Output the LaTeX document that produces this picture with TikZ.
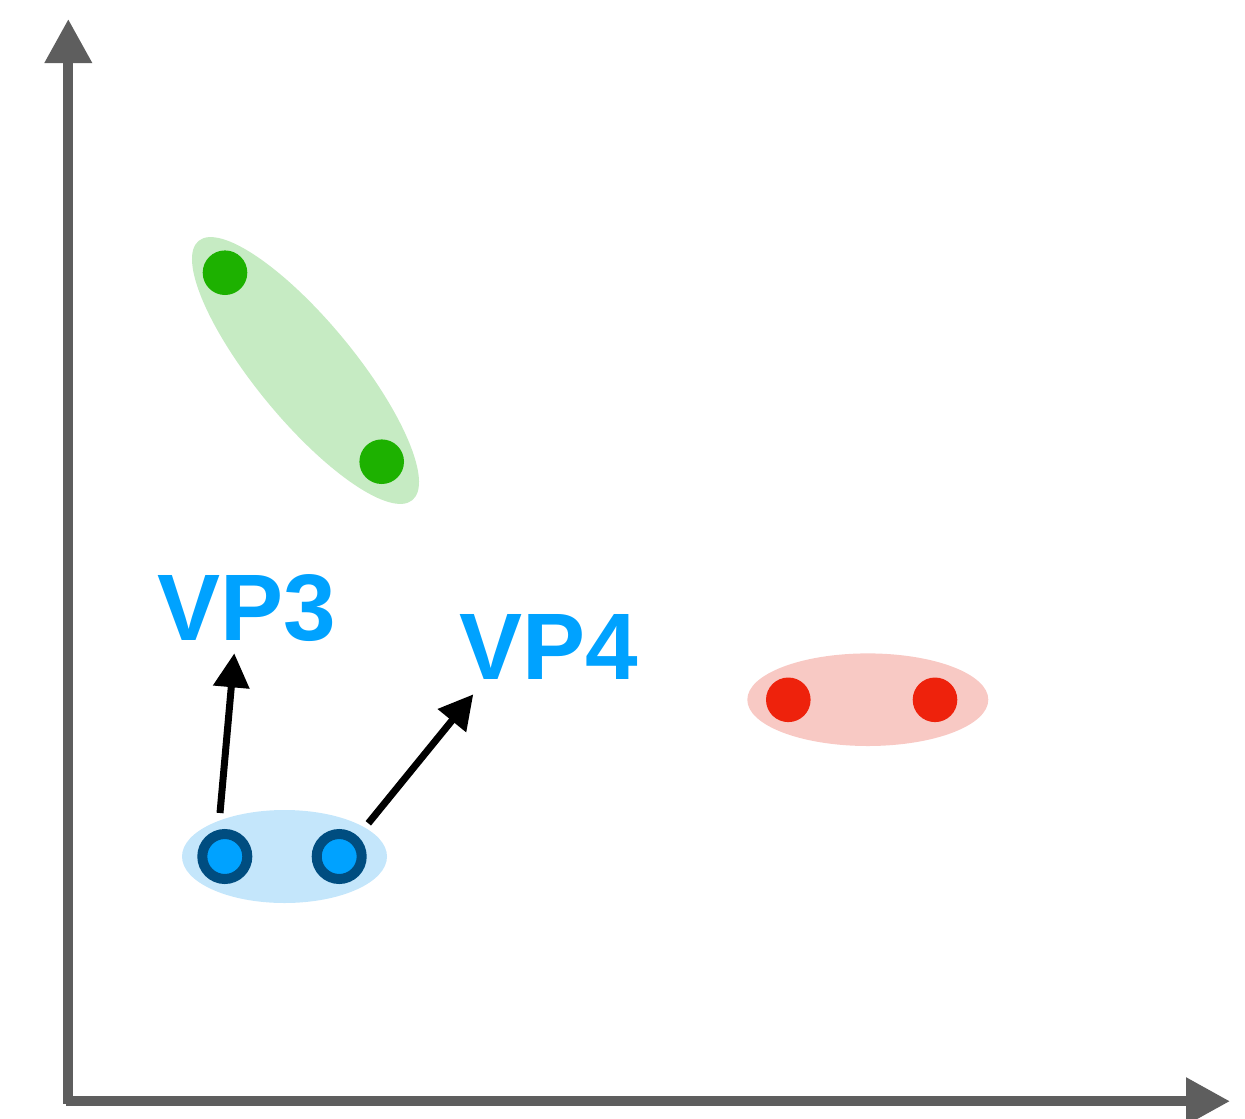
\documentclass[tikz,border=0pt]{standalone}
\usepackage{fontspec}
\setmainfont{Liberation Sans}
\usetikzlibrary{arrows.meta,shapes.geometric}

\definecolor{axisgray}{HTML}{5E5E5E}
\definecolor{greenfill}{HTML}{C6EBC3}
\definecolor{greendot}{HTML}{1DB100}
\definecolor{redfill}{HTML}{F8C9C4}
\definecolor{reddot}{HTML}{EE220C}
\definecolor{bluefill}{HTML}{C4E6FB}
\definecolor{bluedot}{HTML}{00A2FF}
\definecolor{blueedge}{HTML}{004D80}

\tikzset{
  axisline/.style={draw=axisgray, line width=10pt, line cap=butt,
    -{Triangle[length=44pt,width=45pt]}},
  cluster/.style={ellipse, draw=none, inner sep=0pt},
  dotnode/.style={circle, draw=none, inner sep=0pt, minimum size=44.6pt},
  ringdot/.style={circle, fill=bluedot, draw=blueedge, line width=10pt,
    inner sep=0pt, minimum size=45pt},
  pointer/.style={draw=black, line width=7pt, line cap=butt,
    -{Triangle[length=34pt,width=35pt]}},
  vplabel/.style={text=bluedot, inner sep=0pt,
    font=\fontsize{94.5}{100}\selectfont\bfseries}
}

\begin{document}
\begin{tikzpicture}[x=1pt,y=-1pt]
  \useasboundingbox (0,0) rectangle (1245,1119);

  % axes
  \coordinate (ytop) at (68.3,19);
  \coordinate (ybot) at (68.3,1103.7);
  \coordinate (xleft) at (66,1101.2);
  \coordinate (xright) at (1230,1101.2);
  \draw[axisline] (ybot) -- (ytop);
  \draw[axisline] (xleft) -- (xright);

  % green cluster
  \node[cluster, fill=greenfill, minimum width=336pt, minimum height=99pt,
        rotate=-50.5] (gclus) at (305.5,370.5) {};
  \node[dotnode, fill=greendot] (g1) at (225,272.7) {};
  \node[dotnode, fill=greendot] (g2) at (381.7,461.7) {};

  % red cluster
  \node[cluster, fill=redfill, minimum width=241pt, minimum height=92.6pt]
        (rclus) at (867.8,699.7) {};
  \node[dotnode, fill=reddot] (r1) at (788.3,699.8) {};
  \node[dotnode, fill=reddot] (r2) at (935,699.8) {};

  % blue cluster
  \node[cluster, fill=bluefill, minimum width=205pt, minimum height=93pt]
        (bclus) at (284.5,856.5) {};
  \node[ringdot] (b1) at (224.8,856.5) {};
  \node[ringdot] (b2) at (339.2,856.5) {};

  % labels
  \node[vplabel, anchor=base] (vp3) at (246.9,640) {VP3};
  \node[vplabel, anchor=base] (vp4) at (548.9,679) {VP4};

  % arrows from the blue cluster towards the labels
  \coordinate (p3s) at (220,813);
  \coordinate (p3e) at (234.3,653.3);
  \coordinate (p4s) at (368.3,823.3);
  \coordinate (p4e) at (473.3,694.3);
  \draw[pointer] (p3s) -- (p3e);
  \draw[pointer] (p4s) -- (p4e);
\end{tikzpicture}
\end{document}
